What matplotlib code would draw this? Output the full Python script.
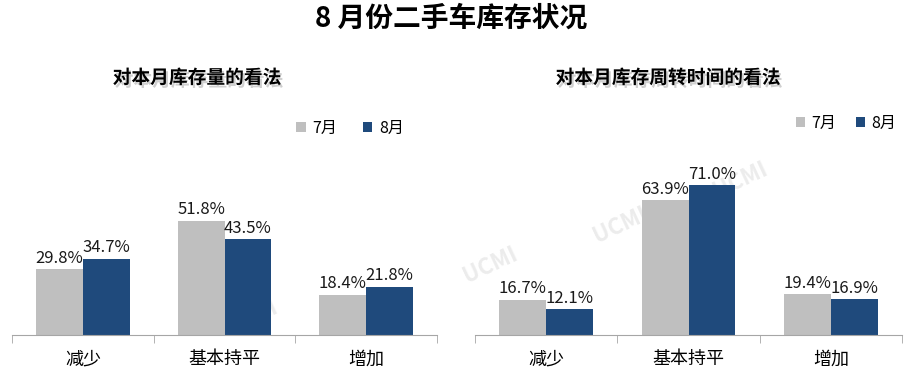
import matplotlib
matplotlib.use('Agg')
import matplotlib.pyplot as plt
import matplotlib.patheffects as pe
import numpy as np

plt.rcParams['font.family'] = ['Noto Sans CJK SC', 'DejaVu Sans']

# Data
categories = ['减少', '基本持平', '增加']
months = ['7月', '8月']
stock_jul = [29.8, 51.8, 18.4]
stock_aug = [34.7, 43.5, 21.8]
turnover_jul = [16.7, 63.9, 19.4]
turnover_aug = [12.1, 71.0, 16.9]

title = '8 月份二手车库存状况'
sub_left = '对本月库存量的看法'
sub_right = '对本月库存周转时间的看法'

c_jul = '#bfbfbf'
c_aug = '#1f4a7c'

W, H = 910, 374
fig = plt.figure(figsize=(W / 100, H / 100), dpi=100)

# Faint watermark (drawn behind the axes)
for (wx, wy) in [(250, 318), (490, 265), (620, 225), (740, 180)]:
    fig.text(wx / W, 1 - wy / H, 'UCMI', ha='center', va='center',
             fontsize=16, fontweight='bold', color='#ececec',
             rotation=25, zorder=-1)


def draw_panel(rect, jul, aug, ylim):
    ax = fig.add_axes(rect)
    ax.set_facecolor('none')
    x = np.arange(len(categories))
    w = 0.33
    b1 = ax.bar(x - w / 2, jul, w, color=c_jul, label=months[0], zorder=2)
    b2 = ax.bar(x + w / 2, aug, w, color=c_aug, label=months[1], zorder=2)
    for bars in (b1, b2):
        for b in bars:
            ax.text(b.get_x() + b.get_width() / 2, b.get_height() + 1.2,
                    f'{b.get_height():.1f}%', ha='center', va='bottom',
                    fontsize=12, color='#1a1a1a')
    ax.set_xlim(-0.5, len(categories) - 0.5)
    ax.set_ylim(0, ylim)
    for s in ['top', 'left', 'right']:
        ax.spines[s].set_visible(False)
    ax.spines['bottom'].set_color('#a6a6a6')
    ax.set_yticks([])
    ax.set_xticks(x)
    ax.set_xticklabels(categories, fontsize=13)
    ax.tick_params(axis='x', which='major', length=0, pad=11)
    ax.set_xticks(np.arange(-0.5, len(categories)), minor=True)
    ax.tick_params(axis='x', which='minor', length=6, color='#a6a6a6')
    return ax


ax1 = draw_panel([12 / W, 1 - 335 / H, 425 / W, 2.2 * 80 / H],
                 stock_jul, stock_aug, 80)
ax2 = draw_panel([475 / W, 1 - 335 / H, 427 / W, 2.11 * 80 / H],
                 turnover_jul, turnover_aug, 80)

# Legends
ax1.legend(loc='center', bbox_to_anchor=(350 / W, 1 - 128 / H),
           bbox_transform=fig.transFigure, ncol=2, frameon=False,
           fontsize=11.5, handlelength=0.6, handleheight=0.6,
           handletextpad=0.4, columnspacing=1.6)
ax2.legend(loc='center', bbox_to_anchor=(846 / W, 1 - 123 / H),
           bbox_transform=fig.transFigure, ncol=2, frameon=False,
           fontsize=11.5, handlelength=0.6, handleheight=0.6,
           handletextpad=0.4, columnspacing=1.2)

# Titles
fig.text(451 / W, 1 - 19 / H, title, ha='center', va='center',
         fontsize=20, fontweight='bold')
shadow = [pe.SimplePatchShadow(offset=(1.5, -2), shadow_rgbFace='#888888', alpha=0.4),
          pe.Normal()]
fig.text(197 / W, 1 - 78 / H, sub_left, ha='center', va='center',
         fontsize=13.5, fontweight='bold', path_effects=shadow)
fig.text(668 / W, 1 - 78 / H, sub_right, ha='center', va='center',
         fontsize=13.5, fontweight='bold', path_effects=shadow)

fig.savefig('out.png', dpi=100)
